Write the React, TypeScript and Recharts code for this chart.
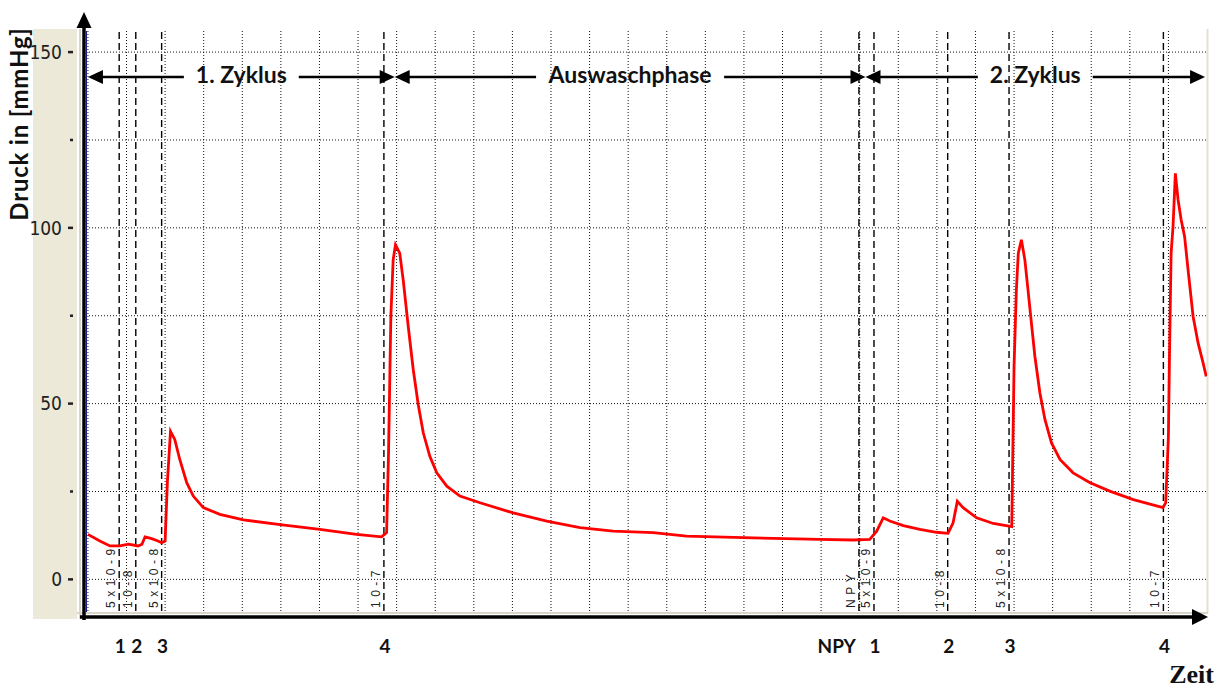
import React, { useLayoutEffect, useRef, useState } from "react";
import { LineChart, Line, XAxis, YAxis, ReferenceLine } from "recharts";

// time in grid units (one dotted column = 1), pressure in mmHg
const TIME = [
  0, 0.31, 0.57, 0.83, 1.05, 1.3, 1.4, 1.48, 1.65, 1.8, 1.91, 2.0, 2.06, 2.14,
  2.25, 2.38, 2.56, 2.73, 2.99, 3.42, 4.03, 4.98, 6.01, 6.96, 7.61, 7.74, 7.79,
  7.85, 7.91, 7.97, 8.08, 8.17, 8.3, 8.43, 8.56, 8.69, 8.86, 9.04, 9.3, 9.64,
  10.16, 11.02, 11.89, 12.75, 13.61, 14.65, 15.51, 17.24, 18.97, 19.83, 20.26,
  20.44, 20.61, 20.78, 21.13, 21.56, 21.99, 22.29, 22.42, 22.53, 22.68, 23.03,
  23.46, 23.94, 24.0, 24.06, 24.11, 24.19, 24.28, 24.37, 24.45, 24.54, 24.67,
  24.8, 24.97, 25.19, 25.53, 25.97, 26.48, 27.09, 27.86, 27.93, 28.0, 28.03,
  28.07, 28.12, 28.18, 28.25, 28.33, 28.42, 28.51, 28.64, 28.77, 28.9, 28.98,
];
const PRESSURE = [
  12.8, 10.9, 9.5, 9.5, 10.0, 9.5, 10.0, 12.1, 11.6, 11.0, 10.4, 10.9, 27.9, 42.1,
  39.8, 34.1, 27.5, 23.7, 20.4, 18.5, 16.9, 15.6, 14.2, 12.8, 12.1, 13.3, 36,
  74.8, 90.9, 95.2, 92.8, 85.2, 72, 59.7, 49.7, 41.7, 35, 30.3, 26.5, 23.7,
  21.8, 18.9, 16.6, 14.7, 13.7, 13.3, 12.3, 11.8, 11.4, 11.2, 11.4,
  13.7, 17.5, 16.6, 15.3, 14.2, 13.4, 13.1, 16.1, 22.2, 20.4, 17.5,
  15.9, 15.0, 60.6, 82.4, 92.8, 96.6, 90.9, 81.4, 72.9, 63.4, 53,
  45.5, 38.8, 34.1, 30.3, 27.5, 25.1, 22.7, 20.4, 21.8, 40.7, 65.3,
  92.8, 100.4, 115.5, 108, 102.3, 97.5, 88, 74.8, 67.2, 61.5, 57.7,
];

const EVENT_TIMES = [0.81, 1.24, 1.91, 7.67, 19.98, 20.37, 22.28, 23.87, 27.87];
const EVENT_DOSES = ["5x10-9", "10-8", "5x10-8", "10-7", "NPY", "5x10-9", "10-8", "5x10-8", "10-7"];
const EVENT_MARKS = ["1", "2", "3", "4", "NPY", "1", "2", "3", "4"];

const PHASE_NAMES = ["1. Zyklus", "Auswaschphase", "2. Zyklus"];
const PHASE_BOUNDS = [0, 7.95, 20.15, 28.95];
const PHASE_LEVEL = 142.9;

const Y_TICKS = [0, 25, 50, 75, 100, 125, 150];
const Y_LABELS = [0, 50, 100, 150];
const X_GRID = Array.from({ length: 29 }, (_, i) => i);

const data = TIME.map((t, i) => ({ t, p: PRESSURE[i] }));

const SANS = "Lato, 'Open Sans', sans-serif";
const TINY = "'Liberation Sans', Arial, sans-serif";
const NARROW = "'Liberation Sans Narrow', 'DejaVu Sans Condensed', 'Liberation Sans', sans-serif";

function YTick(props: any) {
  const { x, y, payload } = props;
  const v = payload.value;
  const labeled = Y_LABELS.includes(v);
  return (
    <g>
      <line x1={labeled ? x - 18 : x - 16} x2={x - 13} y1={y} y2={y} stroke="#222" strokeWidth={2.5} />
      {labeled && (
        <text x={x - 24} y={y} dy="0.36em" textAnchor="end" fontSize={19} fontFamily={NARROW} fill="#222">
          {v}
        </text>
      )}
    </g>
  );
}

function EventLabel(props: any) {
  const { viewBox, dose, mark } = props;
  const { x, y, height } = viewBox;
  const bottom = y + height;
  const wide = mark.length > 1;
  return (
    <g>
      <text
        transform={`translate(${x - 4},${bottom - 3}) rotate(-90)`}
        fontSize={12}
        letterSpacing={4.5}
        fontFamily={TINY}
        fill="#222"
      >
        {dose}
      </text>
      <text
        x={wide ? x - 3 : x + 1}
        y={bottom + 42}
        textAnchor={wide ? "end" : "middle"}
        fontFamily={SANS}
        fontWeight="bold"
        fontSize={19}
        fill="#111"
      >
        {mark}
      </text>
    </g>
  );
}

function PhaseArrow(props: any) {
  const { x1, x2, y1, name } = props;
  const ref = useRef<SVGTextElement>(null);
  const [w, setW] = useState(0);
  useLayoutEffect(() => {
    if (ref.current) setW(ref.current.getBBox().width);
  }, [name]);
  const left = Math.min(x1, x2);
  const right = Math.max(x1, x2);
  const cx = (left + right) / 2;
  const gap = w / 2 + 12;
  const head = 15;
  return (
    <g>
      <line x1={left + head - 1} x2={cx - gap} y1={y1} y2={y1} stroke="#000" strokeWidth={2.5} />
      <line x1={cx + gap} x2={right - head + 1} y1={y1} y2={y1} stroke="#000" strokeWidth={2.5} />
      <polygon points={`${left},${y1} ${left + head},${y1 - 7} ${left + head},${y1 + 7}`} fill="#000" />
      <polygon points={`${right},${y1} ${right - head},${y1 - 7} ${right - head},${y1 + 7}`} fill="#000" />
      <text ref={ref} x={cx} y={y1 + 6} textAnchor="middle" fontFamily={SANS} fontWeight="bold" fontSize={23} fill="#111">
        {name}
      </text>
    </g>
  );
}

export default function App() {
  return (
    <div style={{ position: "absolute", left: 0, top: 0, width: 1230, height: 688, background: "#fff" }}>
      <svg width={1230} height={688} style={{ position: "absolute", left: 0, top: 0 }}>
        <rect x={33} y={29} width={44} height={590} fill="#ECE9D8" />
        <line x1={78} x2={78} y1={29} y2={619} stroke="#fff" strokeWidth={2} />
        <line x1={80} x2={80} y1={29} y2={619} stroke="#ACA899" strokeWidth={1} />
        <line x1={1207.5} x2={1207.5} y1={29} y2={613} stroke="#E4E0D2" strokeWidth={2} />
        <line x1={77} x2={1208} y1={613} y2={613} stroke="#D8D4C8" strokeWidth={2} />
      </svg>
      <div style={{ position: "absolute", left: 0, top: 0 }}>
        <LineChart width={1230} height={688} data={data} margin={{ top: 31, right: 23, left: 35, bottom: 76 }}>
          <XAxis
            type="number"
            dataKey="t"
            domain={[-0.05, 29]}
            ticks={X_GRID}
            interval={0}
            height={1}
            tick={false}
            axisLine={false}
            tickLine={false}
            allowDataOverflow
          />
          <YAxis
            type="number"
            domain={[-9, 156]}
            ticks={Y_TICKS}
            interval={0}
            width={51}
            tickSize={0}
            tickMargin={0}
            axisLine={false}
            tickLine={false}
            tick={<YTick />}
            allowDataOverflow
          />
          {X_GRID.map((t) => (
            <ReferenceLine key={`gx${t}`} x={t} stroke="#111" strokeDasharray="1 2" />
          ))}
          {Y_TICKS.map((v) => (
            <ReferenceLine key={`gy${v}`} y={v} stroke="#111" strokeDasharray="1 2" />
          ))}
          {EVENT_TIMES.map((t, i) => (
            <ReferenceLine
              key={`ev${i}`}
              x={t}
              stroke="#000"
              strokeWidth={1.4}
              strokeDasharray="7 4"
              label={(p: any) => <EventLabel {...p} dose={EVENT_DOSES[i]} mark={EVENT_MARKS[i]} />}
            />
          ))}
          {PHASE_NAMES.map((name, i) => (
            <ReferenceLine
              key={`ph${i}`}
              segment={[
                { x: PHASE_BOUNDS[i], y: PHASE_LEVEL },
                { x: PHASE_BOUNDS[i + 1], y: PHASE_LEVEL },
              ]}
              shape={(p: any) => <PhaseArrow {...p} name={name} />}
            />
          ))}
          <Line
            type="linear"
            dataKey="p"
            stroke="#FF0000"
            strokeWidth={2.8}
            dot={false}
            isAnimationActive={false}
          />
        </LineChart>
      </div>
      <svg width={1230} height={688} style={{ position: "absolute", left: 0, top: 0, pointerEvents: "none" }}>
        <line x1={84} x2={84} y1={620} y2={26} stroke="#000" strokeWidth={3.5} />
        <line x1={86.5} x2={86.5} y1={31} y2={612} stroke="#1a1a80" strokeWidth={1} />
        <polygon points="84,12 76.5,28 91.5,28" fill="#000" />
        <line x1={80} x2={1194} y1={617} y2={617} stroke="#000" strokeWidth={3.5} />
        <polygon points="1208,617 1192,609 1192,625" fill="#000" />
        <text
          transform="translate(28,124) rotate(-90)"
          textAnchor="middle"
          fontFamily={SANS}
          fontWeight="bold"
          fontSize={24}
          letterSpacing={0.8}
          fill="#111"
        >
          Druck in [mmHg]
        </text>
        <text
          x={1214}
          y={683}
          textAnchor="end"
          fontFamily="'Liberation Serif', 'DejaVu Serif', serif"
          fontWeight="bold"
          fontSize={26}
          fill="#111"
        >
          Zeit
        </text>
      </svg>
    </div>
  );
}
